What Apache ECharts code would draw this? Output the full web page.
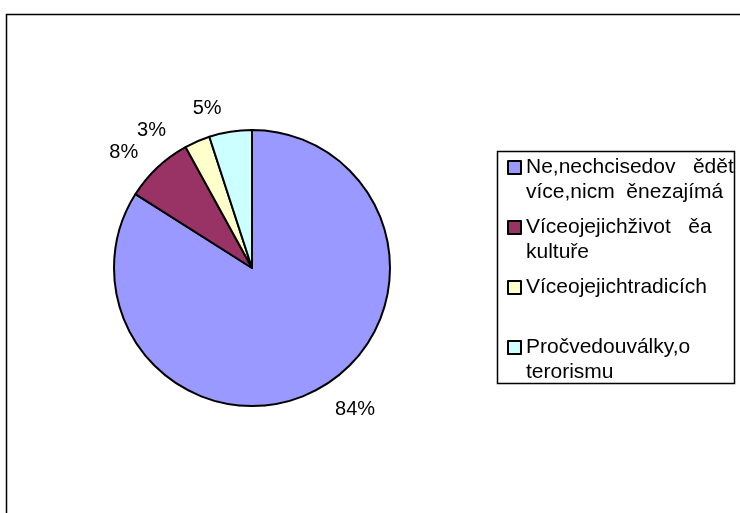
<!DOCTYPE html>
<html>
<head>
<meta charset="utf-8">
<script src="https://cdn.jsdelivr.net/npm/echarts@6/dist/echarts.min.js"></script>
<style>
  html, body { margin: 0; padding: 0; background: #fff; }
  #chart { width: 740px; height: 513px; }
</style>
</head>
<body>
<div id="chart"></div>
<script>
// odpovědi a podíly (%)
const categories = [
  'Ne,nechcisedov   ědět\nvíce,nicm  ěnezajímá',
  'Víceojejichživot   ěa\nkultuře',
  'Víceojejichtradicích',
  'Pročvedouválky,o\nterorismu'
]
const values = [84, 8, 3, 5]
const colors = ['#9999FF', '#993366', '#FFFFCC', '#CCFFFF']

const chart = echarts.init(document.getElementById('chart'))

const font = 'Liberation Sans, Arial, sans-serif'

const options = {
  animation: false,
  color: colors,
  graphic: [
    // vnější rámeček
    {
      type: 'rect',
      shape: { x: 6.5, y: 14.5, width: 780, height: 560 },
      style: { fill: 'none', stroke: '#000', lineWidth: 1.5 },
      silent: true
    },
    // rámeček legendy
    {
      type: 'rect',
      shape: { x: 497.5, y: 151.5, width: 237, height: 232 },
      style: { fill: '#fff', stroke: '#000', lineWidth: 1.5 },
      z: -1,
      silent: true
    }
  ],
  legend: {
    orient: 'vertical',
    left: 507,
    top: 130,
    padding: 0,
    itemGap: -15,
    itemWidth: 13,
    itemHeight: 13,
    icon: 'rect',
    itemStyle: { borderColor: '#000', borderWidth: 2 },
    textStyle: { fontSize: 21, lineHeight: 25, color: '#000', fontFamily: font },
    formatter: (name) => {
      // první řádek zarovnat s ikonou
      const lines = name.split('\n')
      return '\n' + name + (lines.length < 2 ? '\n ' : '')
    },
    data: categories
  },
  series: [{
    type: 'pie',
    center: [252, 268],
    radius: 138,
    startAngle: 90,
    clockwise: true,
    itemStyle: { borderColor: '#000', borderWidth: 2 },
    label: {
      show: true,
      position: 'outside',
      formatter: '{c}%',
      fontSize: 20,
      color: '#000',
      fontFamily: font
    },
    labelLine: { show: false, length: 24, length2: 0 },
    emphasis: { disabled: true },
    data: categories.map((name, i) => ({ name, value: values[i] }))
  }]
}

chart.setOption(options)
</script>
</body>
</html>
